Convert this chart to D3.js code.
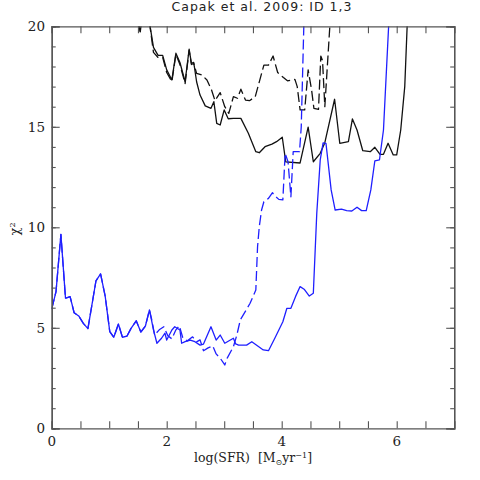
<!DOCTYPE html>
<html><head><meta charset="utf-8">
<script src="https://cdn.jsdelivr.net/npm/d3@7"></script>
<style>body{margin:0;background:#fff}svg{display:block}</style>
</head><body>
<svg id="c" width="480" height="480"></svg>
<script>
// ---- data ----
const xTickLabels = [0, 2, 4, 6];
const yTickLabels = [0, 5, 10, 15, 20];

const blueSolidX = [0,0.075,0.16,0.24,0.32,0.39,0.47,0.55,0.63,0.77,0.85,0.93,1.01,1.08,1.16,1.23,1.31,1.38,1.47,1.55,1.63,1.70,1.77,1.83,1.91,1.97,2.0,2.09,2.14,2.23,2.26,2.32,2.41,2.49,2.58,2.64,2.77,2.86,2.93,3.01,3.16,3.2,3.25,3.39,3.48,3.68,3.77,3.88,4.02,4.09,4.16,4.24,4.32,4.39,4.48,4.55,4.61,4.67,4.72,4.77,4.86,4.93,5.04,5.13,5.22,5.31,5.39,5.47,5.55,5.62,5.70,5.77,5.87];
const blueSolidY = [5.93,6.8,9.65,6.47,6.55,5.75,5.59,5.22,4.96,7.34,7.68,6.58,4.81,4.53,5.19,4.53,4.59,4.97,5.35,4.79,5.09,5.89,4.9,4.23,4.48,4.73,4.39,4.89,5.05,4.89,4.23,4.31,4.39,4.31,4.14,4.19,5.05,4.39,4.64,4.23,4.48,4.2,4.14,4.14,4.31,3.9,3.86,4.48,5.3,5.97,5.97,6.55,7.05,6.92,6.58,6.72,10.7,13.35,14.2,14.18,11.86,10.86,10.9,10.83,10.81,11.0,10.83,10.83,11.86,13.31,13.35,14.84,20.6];

const blueDashX = [0,0.075,0.16,0.24,0.32,0.39,0.47,0.55,0.63,0.77,0.85,0.93,1.01,1.08,1.16,1.23,1.31,1.38,1.47,1.55,1.63,1.70,1.74,1.79,1.87,1.95,2.02,2.09,2.16,2.22,2.28,2.36,2.45,2.52,2.58,2.64,2.72,2.80,2.86,2.94,3.01,3.05,3.16,3.22,3.28,3.45,3.55,3.58,3.61,3.65,3.69,3.77,3.84,3.87,3.95,4.02,4.06,4.11,4.16,4.20,4.31,4.34,4.39];
const blueDashY = [5.93,6.8,9.65,6.47,6.55,5.75,5.59,5.22,4.96,7.34,7.68,6.58,4.81,4.53,5.19,4.53,4.59,4.97,5.35,4.79,5.09,5.89,5.4,4.64,4.9,5.05,4.6,4.45,4.9,5.1,4.5,4.35,4.55,4.3,4.4,3.86,4.0,4.1,3.7,3.45,3.15,3.48,4.06,4.64,5.39,6.22,6.88,9.03,10.03,10.86,11.27,11.44,11.72,11.6,11.39,11.36,13.68,13.26,11.52,13.76,13.76,15.0,20.6];

const blackSolidX = [1.46,1.54,1.62,1.70,1.77,1.85,1.93,2.0,2.09,2.16,2.23,2.32,2.39,2.43,2.47,2.52,2.58,2.67,2.77,2.82,2.87,2.93,3.0,3.07,3.16,3.29,3.42,3.55,3.61,3.71,3.83,3.91,4.01,4.07,4.32,4.46,4.55,4.67,4.75,4.92,5.01,5.16,5.23,5.31,5.41,5.54,5.62,5.71,5.77,5.85,5.94,6.0,6.07,6.14,6.19];
const blackSolidY = [20.8,19.73,21.5,20.2,18.95,18.55,18.55,17.83,17.33,18.66,18.2,17.24,18.86,18.16,18.2,17.24,16.58,16.04,15.92,16.25,15.17,15.09,15.84,15.4,15.42,15.42,14.68,13.76,13.71,14.01,14.14,14.26,14.48,13.26,13.2,14.98,13.26,13.68,14.21,16.37,14.18,14.26,15.39,14.84,13.81,13.76,13.98,13.63,13.63,14.18,13.6,13.6,14.84,17.0,20.6];

const blackDashX = [1.46,1.54,1.62,1.70,1.77,1.85,1.93,2.0,2.09,2.16,2.23,2.32,2.39,2.43,2.47,2.52,2.61,2.70,2.78,2.84,2.93,3.01,3.08,3.16,3.23,3.29,3.37,3.44,3.54,3.69,3.77,3.85,3.93,4.03,4.10,4.23,4.27,4.32,4.40,4.46,4.52,4.56,4.64,4.68,4.71,4.75,4.85];
const blackDashY = [20.8,19.73,21.5,20.2,18.7,18.45,18.45,17.7,17.25,18.6,18.1,17.15,18.8,18.1,18.15,17.66,17.58,17.33,16.83,16.3,16.7,16.0,15.67,16.5,16.42,16.87,16.33,16.3,16.5,18.07,18.07,18.52,17.7,17.45,17.29,17.36,17.0,15.84,15.84,17.83,16.83,15.92,15.87,18.52,18.3,16.0,20.6];

// ---- layout ----
const svg = d3.select('#c');
const L = 51.7, R = 454.2, T = 26.3, B = 428.3;
const x = d3.scaleLinear().domain([0, 7]).range([L, R]);
const y = d3.scaleLinear().domain([0, 20]).range([B, T]);
const frameCol = '#555';
const serif = "'DejaVu Serif', serif";

svg.append('clipPath').attr('id','clip').append('rect')
  .attr('x', L).attr('y', T).attr('width', R - L).attr('height', B - T);

const series = [
  {xs: blackSolidX, ys: blackSolidY, color: '#111', dash: null},
  {xs: blackDashX, ys: blackDashY, color: '#111', dash: '10,4'},
  {xs: blueSolidX, ys: blueSolidY, color: '#1f1fff', dash: null},
  {xs: blueDashX, ys: blueDashY, color: '#1f1fff', dash: '10,4'}
];
const line = d3.line().x(d => x(d[0])).y(d => y(d[1]));
const g = svg.append('g').attr('clip-path', 'url(#clip)');
series.forEach(s => {
  const pts = s.xs.map((v, i) => [v, s.ys[i]]);
  g.append('path').attr('d', line(pts)).attr('fill', 'none')
    .attr('stroke', s.color).attr('stroke-width', 1.3)
    .attr('stroke-dasharray', s.dash).attr('stroke-linejoin', 'round');
});

// axes (ticks inward, on all sides)
const xTicks = d3.range(0, 7.01, 0.5);
const yTicks = d3.range(0, 20.01, 1);
const axBottom = d3.axisBottom(x).tickValues(xTicks).tickSize(-7).tickFormat('');
const axTop = d3.axisTop(x).tickValues(xTicks).tickSize(-7).tickFormat('');
const axLeft = d3.axisLeft(y).tickValues(yTicks).tickSize(-4).tickFormat('');
const axRight = d3.axisRight(y).tickValues(yTicks).tickSize(-4).tickFormat('');
svg.append('g').attr('transform', `translate(0,${B})`).call(axBottom);
svg.append('g').attr('transform', `translate(0,${T})`).call(axTop);
svg.append('g').attr('transform', `translate(${L},0)`).call(axLeft);
svg.append('g').attr('transform', `translate(${R},0)`).call(axRight);
// longer major y ticks
svg.append('g').attr('transform', `translate(${L},0)`)
  .call(d3.axisLeft(y).tickValues(yTickLabels).tickSize(-8).tickFormat(''));
svg.append('g').attr('transform', `translate(${R},0)`)
  .call(d3.axisRight(y).tickValues(yTickLabels).tickSize(-8).tickFormat(''));
svg.selectAll('.domain').attr('stroke', frameCol).attr('stroke-width', 1.3);
svg.selectAll('.tick line').attr('stroke', frameCol).attr('stroke-width', 1.1);

// tick labels
svg.append('g').selectAll('text').data(xTickLabels).join('text')
  .attr('x', d => x(d)).attr('y', 446).attr('text-anchor', 'middle')
  .attr('font-family', serif).attr('font-size', 13.5).attr('fill', '#222').text(d => d);
svg.append('g').selectAll('text').data(yTickLabels).join('text')
  .attr('x', 45).attr('y', d => y(d) + 5).attr('text-anchor', 'end')
  .attr('font-family', serif).attr('font-size', 13.5).attr('fill', '#222').text(d => d);

// title
svg.append('text').attr('x', 262).attr('y', 11).attr('text-anchor', 'middle')
  .attr('font-family', "'DejaVu Sans', sans-serif").attr('font-size', 12.5)
  .attr('letter-spacing', 1).attr('fill', '#222')
  .text('Capak et al. 2009: ID 1,3');

// x label
const xl = svg.append('text').attr('x', 253).attr('y', 462).attr('text-anchor', 'middle')
  .attr('font-family', serif).attr('font-size', 12.5).attr('fill', '#222');
xl.append('tspan').text('log(SFR)');
xl.append('tspan').attr('dx', 8).text('[M');
xl.append('tspan').attr('dy', 3).attr('font-size', 8).text('⊙');
xl.append('tspan').attr('dy', -3).text('yr');
xl.append('tspan').attr('dy', -4).attr('font-size', 8).text('−1');
xl.append('tspan').attr('dy', 4).text(']');

// y label
const yl = svg.append('text').attr('transform', 'translate(19,229) rotate(-90)')
  .attr('text-anchor', 'middle').attr('font-family', serif).attr('font-size', 13).attr('fill', '#222');
yl.append('tspan').text('χ');
yl.append('tspan').attr('dy', -4).attr('font-size', 8).text('2');
</script>
</body></html>
